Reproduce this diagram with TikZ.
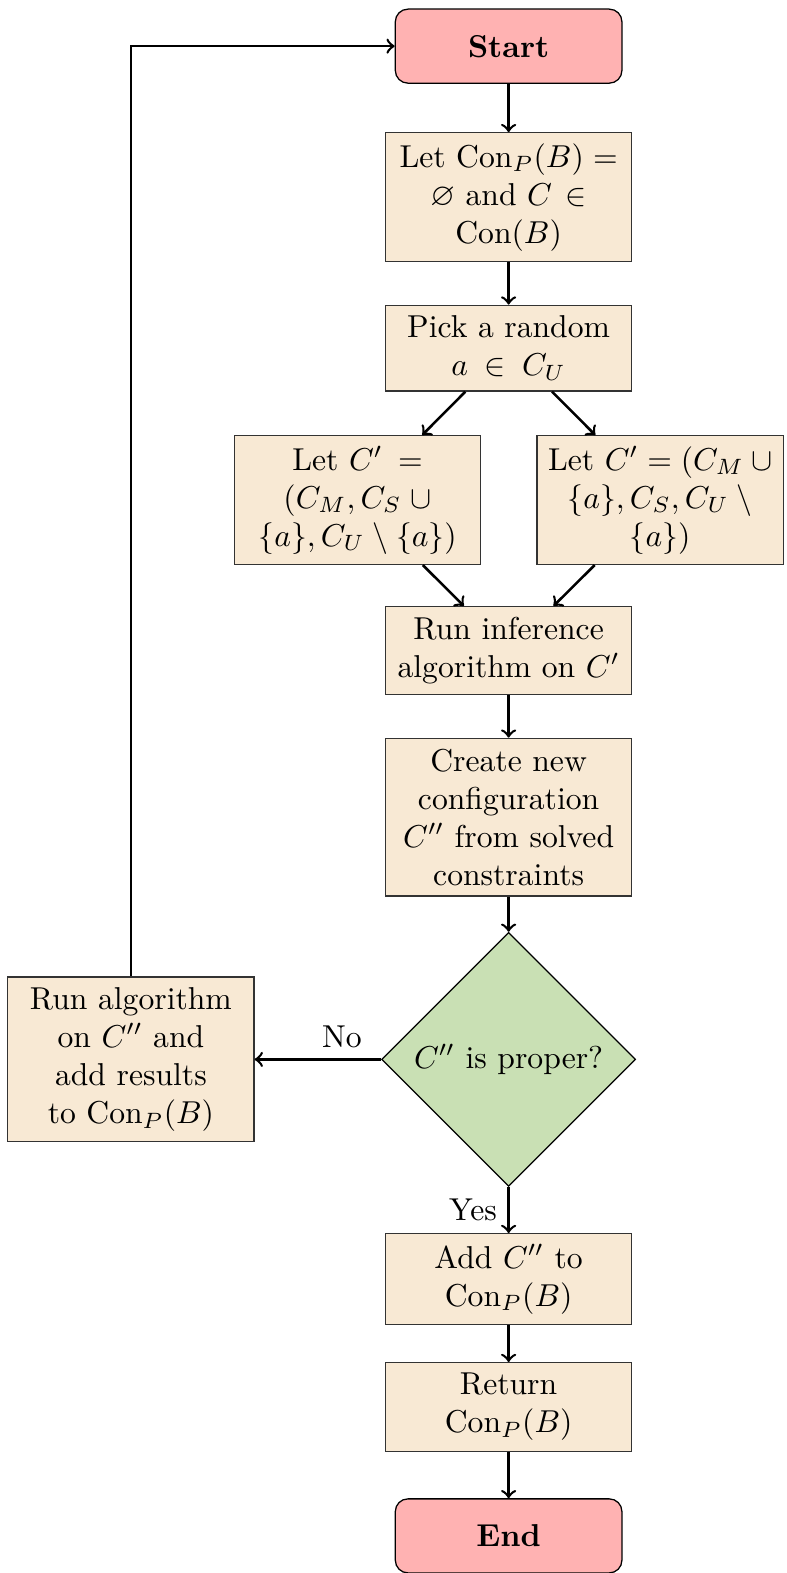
\documentclass[tikz,border=0pt]{standalone}
\usepackage{amssymb}
\usetikzlibrary{shapes.geometric}
\definecolor{boxfill}{RGB}{248,233,212}
\definecolor{decfill}{RGB}{201,224,180}
\definecolor{termfill}{RGB}{255,178,178}
\tikzset{
  procbox/.style={rectangle, draw=black!80, fill=boxfill, text width=2.5cm, align=center},
  termbox/.style={rectangle, rounded corners, draw=black, fill=termfill, minimum width=71.6pt, minimum height=23.4pt, font=\bfseries},
  decbox/.style={diamond, aspect=1, draw=black, fill=decfill, inner sep=0pt, minimum width=80.2pt, minimum height=80.2pt},
  flow/.style={->, thick}
}
\begin{document}
\begin{tikzpicture}[x=0.31696pt, y=-0.31696pt]
  \useasboundingbox (0,0) rectangle (784,1568);
  \node[termbox] (start) at (507,46) {Start};
  \node[procbox] (init) at (507,196.5) {Let $\mathrm{Con}_P(B) = \varnothing$ and $C \in \mathrm{Con}(B)$};
  \node[procbox] (pick) at (507,347) {Pick a random $a \in C_U$};
  \node[procbox] (left) at (356.5,498.5) {Let $C' = (C_M, C_S \cup \{a\}, C_U \setminus \{a\})$};
  \node[procbox] (right) at (658,498.5) {Let $C' = (C_M \cup \{a\}, C_S, C_U \setminus \{a\})$};
  \node[procbox] (infer) at (507,648.5) {Run inference algorithm on $C'$};
  \node[procbox] (create) at (507,814.5) {Create new configuration $C''$ from solved constraints};
  \node[decbox] (proper) at (507,1056) {$C''$ is proper?};
  \node[procbox] (runalg) at (130.5,1056) {Run algorithm on $C''$ and add results to $\mathrm{Con}_P(B)$};
  \node[procbox] (add) at (507,1275) {Add $C''$ to $\mathrm{Con}_P(B)$};
  \node[procbox] (ret) at (507,1402.5) {Return $\mathrm{Con}_P(B)$};
  \node[termbox] (end) at (507,1531) {End};

  \draw[flow] (start) -- (init);
  \draw[flow] (init) -- (pick);
  \draw[flow] (pick) -- (left);
  \draw[flow] (pick) -- (right);
  \draw[flow] (left) -- (infer);
  \draw[flow] (right) -- (infer);
  \draw[flow] (infer) -- (create);
  \draw[flow] (create) -- (proper);
  \draw[flow] (proper.west) -- node[above, pos=0.31] {No} (runalg.east);
  \draw[flow] (runalg.north) |- (start.west);
  \draw[flow] (proper.south) -- node[left] {Yes} (add.north);
  \draw[flow] (add) -- (ret);
  \draw[flow] (ret) -- (end);
\end{tikzpicture}
\end{document}
